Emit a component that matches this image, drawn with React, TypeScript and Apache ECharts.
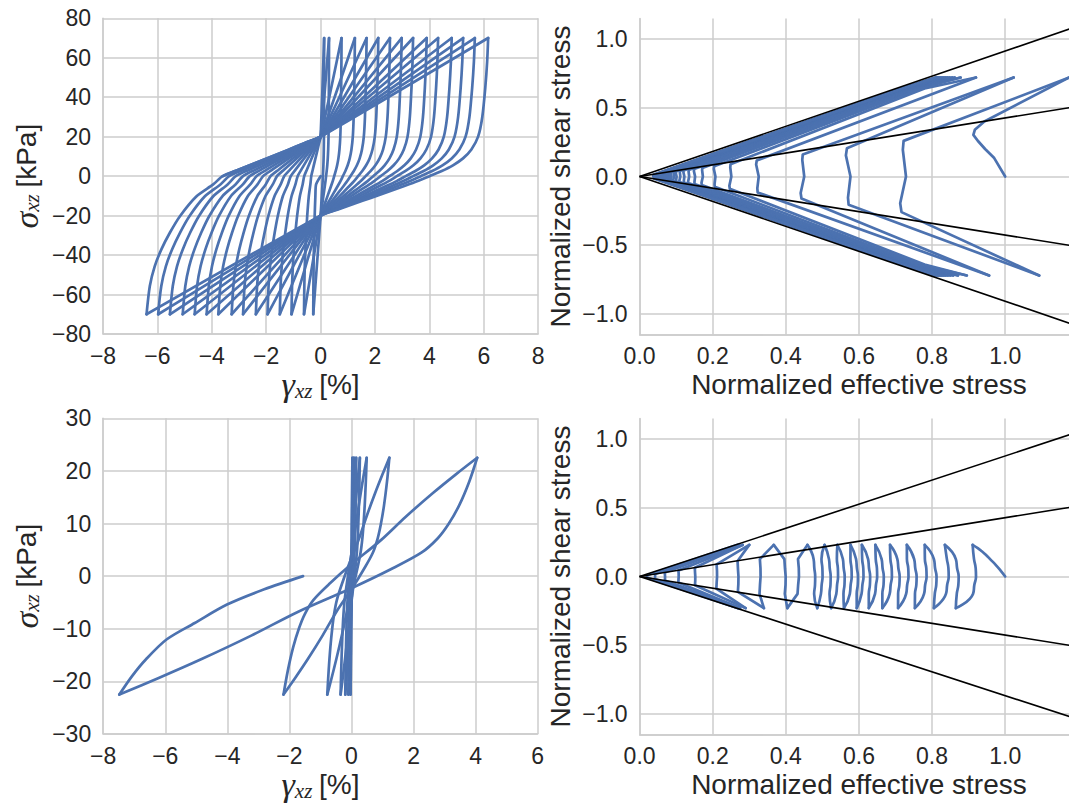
import { useEffect, useRef } from 'react';
import * as echarts from 'echarts';

// ---------------- Top-left: shear stress vs shear strain (test 1) ----------------
const tlStressPeak = 70;
const tlTopPeaks = [0.13, 0.31, 0.77, 1.26, 1.69, 2.12, 2.55, 2.98, 3.4, 3.9, 4.32, 4.82, 5.24, 5.67, 6.16];
const tlBottomPeaks = [-0.27, -0.61, -1.07, -1.5, -1.95, -2.38, -2.85, -3.27, -3.76, -4.19, -4.63, -5.07, -5.54, -5.97, -6.4];
// unloading branch read from the outermost left loop: [strain as fraction of the peak strain, stress kPa]
const tlUnloadShape = [
  [0, 20], [0.094, 16.7], [0.1875, 13.3], [0.281, 10], [0.375, 6.7], [0.469, 3.4], [0.5625, 0],
  [0.617, -4.2], [0.7125, -10.2], [0.808, -20.3], [0.866, -28.7], [0.914, -37], [0.953, -45.7],
  [0.981, -55.7], [1, -70],
];
// loading branch read from the outermost right loop
const tlLoadShape = [
  [0, -20], [0.1, -17], [0.2, -14], [0.3, -11], [0.4, -8], [0.5, -5], [0.58, -2.5], [0.65, 0],
  [0.72, 2.5], [0.79, 5.5], [0.85, 9], [0.9, 13.5], [0.94, 20], [0.965, 30], [0.983, 45], [0.994, 58], [1, 70],
];

// ---------------- Bottom-left: shear stress vs shear strain (test 2) ----------------
const blStressPeak = 22.5;
const blTopPeaks = [0.03, 0.08, 0.15, 0.27, 0.49, 1.22, 4.05];
const blBottomPeaks = [-0.03, -0.1, -0.2, -0.35, -0.78, -2.19, -7.48];
// [fraction of stress change, fraction of strain change] along one branch
const blLensShape = [
  [0, 0], [0.1, 0.022], [0.2, 0.05], [0.28, 0.08], [0.34, 0.11], [0.4, 0.155], [0.47, 0.24],
  [0.55, 0.35], [0.65, 0.5], [0.75, 0.63], [0.85, 0.77], [0.93, 0.89], [1, 1],
];
const blFinalBranch = [
  [-7.48, -22.5], [-7.07, -19], [-6.62, -15.8], [-5.95, -12], [-5.05, -8.9], [-4.01, -5.4], [-2.81, -2.5], [-1.56, 0],
];

// ---------------- Top-right: stress path (test 1) ----------------
const trShearPeak = 0.72;
const trStartPath = [[1, 0], [0.97, 0.134], [0.945, 0.2], [0.925, 0.26], [0.913, 0.303], [0.917, 0.34], [0.943, 0.4]];
const trTopPeaks = [1.175, 1.023, 0.92, 0.878, 0.862, 0.855, 0.848, 0.842, 0.837, 0.832, 0.827, 0.822, 0.818, 0.814, 0.81];
const trBottomPeaks = [1.093, 0.956, 0.895, 0.871, 0.858, 0.85, 0.843, 0.837, 0.832, 0.827, 0.822, 0.817, 0.812, 0.806];
const trMinStress = [
  0.72, 0.57, 0.445, 0.322, 0.248, 0.205, 0.171, 0.15, 0.134, 0.121, 0.11, 0.1, 0.093, 0.086, 0.08,
  0.075, 0.07, 0.066, 0.062, 0.058, 0.055, 0.052, 0.049, 0.047, 0.045, 0.043, 0.041, 0.039, 0.037,
];
// [p / p_min, tau / p_min]
const trSegmentShape = [[1.003, 0.36], [1.0, 0.27], [1.012, 0], [0.99, -0.27], [0.995, -0.36]];
// where late cycles leave the failure line: [p at p_min = 0, extra p per unit p_min, |tau|]
const trKnee = [0.705, 0.3, 0.64];
const trLineEnds = [[1.2, 1.095], [1.2, 0.511], [1.2, -0.511], [1.2, -1.089]];

// ---------------- Bottom-right: stress path (test 2) ----------------
const brShearPeak = 0.23;
const brStartPath = [[1, 0], [0.987, 0.045], [0.974, 0.085], [0.96, 0.123], [0.947, 0.158], [0.935, 0.185], [0.925, 0.206]];
const brTopPeaks = [0.911, 0.835, 0.78, 0.731, 0.685, 0.645, 0.608, 0.577, 0.541, 0.506, 0.459, 0.367, 0.3, 0.282, 0.272, 0.268];
const brBottomPeaks = [0.865, 0.805, 0.753, 0.707, 0.664, 0.627, 0.594, 0.559, 0.524, 0.486, 0.404, 0.34, 0.29, 0.275, 0.27];
const brMidStress = [
  0.912, 0.865, 0.838, 0.805, 0.778, 0.751, 0.729, 0.705, 0.684, 0.662, 0.644, 0.625, 0.607, 0.592, 0.575,
  0.556, 0.538, 0.518, 0.496, 0.476, 0.432, 0.396, 0.328, 0.268, 0.21, 0.151, 0.106, 0.069, 0.042, 0.02,
];
const brSegmentShape = [[1.003, 0.42], [1.008, 0.2], [1.009, 0], [1.004, -0.2], [1, -0.42]];
const brSegmentCap = 0.1265;
const brLineEnds = [[1.2, 1.052], [1.2, 0.513], [1.2, -0.511], [1.2, -1.04]];

const SANS = "'Liberation Sans', Arial, Helvetica, sans-serif";
const SERIF = "'Liberation Serif', 'DejaVu Serif', serif";
const TEXT = '#262626';
const GRIDC = '#cccccc';
const BLUE = '#4C72B0';
const LW = 2.7;

const minus = (s: string) => s.replace('-', '\u2212');
const intFmt = (v: number) => minus(String(Math.round(v)));
const decFmt = (v: number) => (Math.abs(v) > 1.05 ? '' : minus(v.toFixed(1)));

function buildTopLeft(): number[][][] {
  const out: number[][][] = [];
  let cur: number[] = [0, 0];
  for (let k = 0; k < tlTopPeaks.length; k++) {
    const B = tlBottomPeaks[k];
    const down: number[][] = [cur];
    tlUnloadShape.forEach(([f, y]) => {
      if (k > 0 || y < 0) down.push([f * B, (y / 70) * tlStressPeak]);
    });
    out.push(down);
    cur = [B, -tlStressPeak];
    const T = tlTopPeaks[k];
    const up: number[][] = [cur];
    tlLoadShape.forEach(([f, y]) => up.push([f * T, (y / 70) * tlStressPeak]));
    out.push(up);
    cur = [T, tlStressPeak];
  }
  const last = tlBottomPeaks[tlBottomPeaks.length - 1];
  const fin: number[][] = [cur];
  tlUnloadShape.forEach(([f, y]) => {
    if (y >= 0) fin.push([f * last, y]);
  });
  out.push(fin);
  return out;
}

function lens(x1: number, y1: number, x2: number, y2: number): number[][] {
  return blLensShape.map(([u, v]) => [x1 + v * (x2 - x1), y1 + u * (y2 - y1)]);
}

function buildBottomLeft(): number[][][] {
  const out: number[][][] = [];
  let cx = 0, cy = 0;
  for (let k = 0; k < blTopPeaks.length; k++) {
    out.push(lens(cx, cy, blTopPeaks[k], blStressPeak));
    cx = blTopPeaks[k]; cy = blStressPeak;
    out.push(lens(cx, cy, blBottomPeaks[k], -blStressPeak));
    cx = blBottomPeaks[k]; cy = -blStressPeak;
  }
  out.push(blFinalBranch);
  return out;
}

function segment(pm: number, s: number, shape: number[][], cap: number, upto = shape.length): number[][] {
  const k = Math.min(1, cap / (shape[0][1] * pm));
  return shape.slice(0, upto).map(([fx, fy]) => [pm * fx, s * fy * pm * k]);
}

function buildPath(
  start: number[][], tops: number[], bots: number[], mids: number[], A: number,
  shape: number[][], cap: number, knee: number[] | null,
): { pts: number[][]; pm: number }[] {
  const branches: { pts: number[][]; pm: number }[] = [];
  branches.push({ pts: [...start, [tops[0], A]], pm: 1 });
  const midIdx = Math.floor(shape.length / 2) + 1;
  for (let i = 0; i < mids.length; i++) {
    const j = Math.floor(i / 2);
    const tb = i % 2 === 0; // top -> bottom
    const s = tb ? 1 : -1;
    const pm = mids[i];
    const from = tb ? [tops[j], A] : [bots[j], -A];
    let to: number[] | null = null;
    if (tb && j < bots.length) to = [bots[j], -A];
    if (!tb && j + 1 < tops.length) to = [tops[j + 1], A];
    const useKnee = knee && pm < 0.3;
    const kp = knee ? knee[0] + knee[1] * pm : 0;
    const pts: number[][] = [from];
    if (useKnee) pts.push([kp, s * knee![2]]);
    pts.push(...(to ? segment(pm, s, shape, cap) : segment(pm, s, shape, cap, midIdx)));
    if (to) {
      if (useKnee) pts.push([kp, -s * knee![2]]);
      pts.push(to);
    }
    branches.push({ pts, pm });
  }
  return branches;
}

function buildOption() {
  const axisBase = {
    type: 'value',
    axisLine: { show: true, onZero: false, lineStyle: { color: GRIDC, width: 1.5 } },
    axisTick: { show: false },
    splitLine: { show: true, lineStyle: { color: GRIDC, width: 1.5 } },
    nameLocation: 'middle',
  };
  const rich = {
    m: { fontFamily: SERIF, fontStyle: 'italic', fontSize: 34, color: TEXT },
    s: { fontFamily: SERIF, fontStyle: 'italic', fontSize: 21, color: TEXT, padding: [12, 0, 0, 0] },
    t: { fontFamily: SANS, fontSize: 28, color: TEXT },
  };
  const labelX = (fmt: (v: number) => string) => ({ color: TEXT, fontSize: 23, fontFamily: SANS, margin: 10, formatter: fmt });
  const labelY = (fmt: (v: number) => string) => ({ color: TEXT, fontSize: 23, fontFamily: SANS, margin: 12, formatter: fmt });
  const plainName = { color: TEXT, fontSize: 28, fontFamily: SANS };

  const grids = [
    { left: 103, top: 18.3, width: 435.2, height: 315.7 },
    { left: 639.6, top: 18.4, width: 438.7, height: 316.2 },
    { left: 103.2, top: 418.3, width: 434.5, height: 315.7 },
    { left: 639.6, top: 418.4, width: 438.7, height: 316.2 },
  ].map((g) => ({ ...g, containLabel: false, outerBoundsMode: 'none', show: false }));

  const gammaName = '{m|γ}{s|xz}  {t|[%]}';
  const sigmaName = '{m|σ}{s|xz}  {t|[kPa]}';

  const xAxis = [
    { ...axisBase, gridIndex: 0, min: -8, max: 8, interval: 2, axisLabel: labelX(intFmt), name: gammaName, nameGap: 33, nameTextStyle: { rich } },
    { ...axisBase, gridIndex: 1, min: 0, max: 1.2, interval: 0.2, axisLabel: labelX(decFmt), name: 'Normalized effective stress', nameGap: 36, nameTextStyle: plainName },
    { ...axisBase, gridIndex: 2, min: -8, max: 6, interval: 2, axisLabel: labelX(intFmt), name: gammaName, nameGap: 31, nameTextStyle: { rich } },
    { ...axisBase, gridIndex: 3, min: 0, max: 1.2, interval: 0.2, axisLabel: labelX(decFmt), name: 'Normalized effective stress', nameGap: 36, nameTextStyle: plainName },
  ];
  const rightSplit = { show: true, showMaxLine: false, lineStyle: { color: GRIDC, width: 1.5 } };
  const yAxis = [
    { ...axisBase, gridIndex: 0, min: -80, max: 80, interval: 20, axisLabel: labelY(intFmt), name: sigmaName, nameRotate: 90, nameGap: 60, nameTextStyle: { rich } },
    { ...axisBase, gridIndex: 1, min: -1.15, max: 1.15, splitNumber: 5, splitLine: rightSplit, axisLabel: labelY(decFmt), name: 'Normalized shear stress', nameRotate: 90, nameGap: 65, nameTextStyle: plainName },
    { ...axisBase, gridIndex: 2, min: -30, max: 30, interval: 10, axisLabel: labelY(intFmt), name: sigmaName, nameRotate: 90, nameGap: 60, nameTextStyle: { rich } },
    { ...axisBase, gridIndex: 3, min: -1.15, max: 1.15, splitNumber: 5, splitLine: rightSplit, axisLabel: labelY(decFmt), name: 'Normalized shear stress', nameRotate: 90, nameGap: 65, nameTextStyle: plainName },
  ];

  const blueLine = (idx: number, data: number[][], smooth: number | boolean) => ({
    type: 'line', xAxisIndex: idx, yAxisIndex: idx, data, showSymbol: false, symbol: 'none', smooth,
    lineStyle: { color: BLUE, width: LW, cap: 'round', join: 'round' }, silent: true, z: 2, clip: true,
  });
  const blackLine = (idx: number, end: number[]) => ({
    type: 'line', xAxisIndex: idx, yAxisIndex: idx, data: [[0, 0], end], showSymbol: false, symbol: 'none',
    lineStyle: { color: '#000000', width: 1.6 }, silent: true, z: 5, clip: true,
  });

  const series: any[] = [];
  buildTopLeft().forEach((b) => series.push(blueLine(0, b, 0.25)));
  buildBottomLeft().forEach((b) => series.push(blueLine(2, b, 0.3)));
  buildPath(trStartPath, trTopPeaks, trBottomPeaks, trMinStress, trShearPeak, trSegmentShape, 10, trKnee).forEach((b) =>
    series.push(blueLine(1, b.pts, false)),
  );
  buildPath(brStartPath, brTopPeaks, brBottomPeaks, brMidStress, brShearPeak, brSegmentShape, brSegmentCap, null).forEach((b) =>
    series.push(blueLine(3, b.pts, b.pm > 0.45 ? 0.5 : false)),
  );
  trLineEnds.forEach((e) => series.push(blackLine(1, e)));
  brLineEnds.forEach((e) => series.push(blackLine(3, e)));

  return {
    animation: false,
    backgroundColor: '#ffffff',
    textStyle: { fontFamily: SANS, color: TEXT },
    grid: grids,
    xAxis,
    yAxis,
    series,
  };
}

export default function App() {
  const ref = useRef<HTMLDivElement>(null);
  useEffect(() => {
    if (!ref.current) return;
    const chart = echarts.init(ref.current, undefined, { renderer: 'svg' });
    chart.setOption(buildOption() as any);
    return () => chart.dispose();
  }, []);
  return (
    <div
      ref={ref}
      style={{ position: 'absolute', left: 0, top: 0, width: 1069, height: 803, background: '#ffffff' }}
    />
  );
}
